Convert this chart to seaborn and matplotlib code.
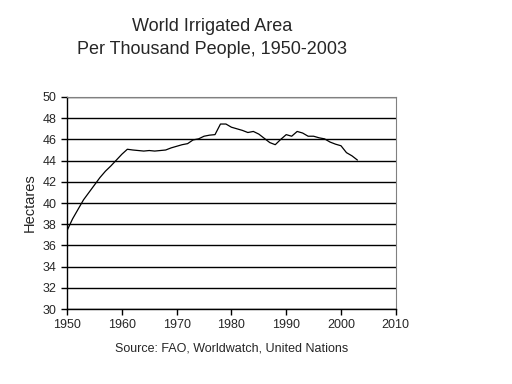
import pandas as pd
import numpy as np
import matplotlib.pyplot as plt
import seaborn as sns

years = list(range(1950, 2004))
hectares = [37.4, 38.5, 39.4, 40.3, 41.0, 41.7, 42.4, 43.0, 43.5, 44.05,
            44.6, 45.07, 45.0, 44.95, 44.9, 44.95, 44.9, 44.95, 45.0, 45.2,
            45.35, 45.5, 45.6, 45.95, 46.05, 46.3, 46.4, 46.45, 47.45, 47.45,
            47.15, 47.0, 46.85, 46.65, 46.75, 46.5, 46.1, 45.7, 45.5, 46.0,
            46.45, 46.3, 46.75, 46.6, 46.3, 46.3, 46.15, 46.05, 45.75, 45.55,
            45.4, 44.75, 44.45, 44.05]

df = pd.DataFrame({'Year': years, 'Hectares': hectares})

sns.set_theme(style="white")
plt.rcParams['font.family'] = ['Liberation Sans', 'DejaVu Sans']

fig = plt.figure(figsize=(5.12, 3.84), dpi=100)
ax = fig.add_axes([0.131, 0.1953, 0.642, 0.5521])

sns.lineplot(data=df, x='Year', y='Hectares', color='black', linewidth=0.9, ax=ax)

ax.set_xlim(1950, 2010)
ax.set_ylim(30, 50)
ax.set_xticks(range(1950, 2011, 10))
ax.set_yticks(range(30, 51, 2))
ax.yaxis.grid(True, color='black', linewidth=1)
ax.xaxis.grid(False)
ax.set_axisbelow(True)

for s in ['left', 'bottom']:
    ax.spines[s].set_color('black')
    ax.spines[s].set_linewidth(1)
for s in ['top', 'right']:
    ax.spines[s].set_color('#808080')
    ax.spines[s].set_linestyle((0, (1, 1)))
    ax.spines[s].set_linewidth(0.8)

ax.tick_params(axis='both', which='both', direction='out', length=4, width=1,
               color='black', labelsize=9, left=True, bottom=True)
ax.set_xlabel('Source: FAO, Worldwatch, United Nations', fontsize=9, labelpad=8)
ax.set_ylabel('Hectares', fontsize=10.5, labelpad=4)

fig.text(0.414, 0.9, 'World Irrigated Area\nPer Thousand People, 1950-2003',
         ha='center', va='center', fontsize=13, linespacing=1.45)

plt.savefig('out.png', dpi=100)
